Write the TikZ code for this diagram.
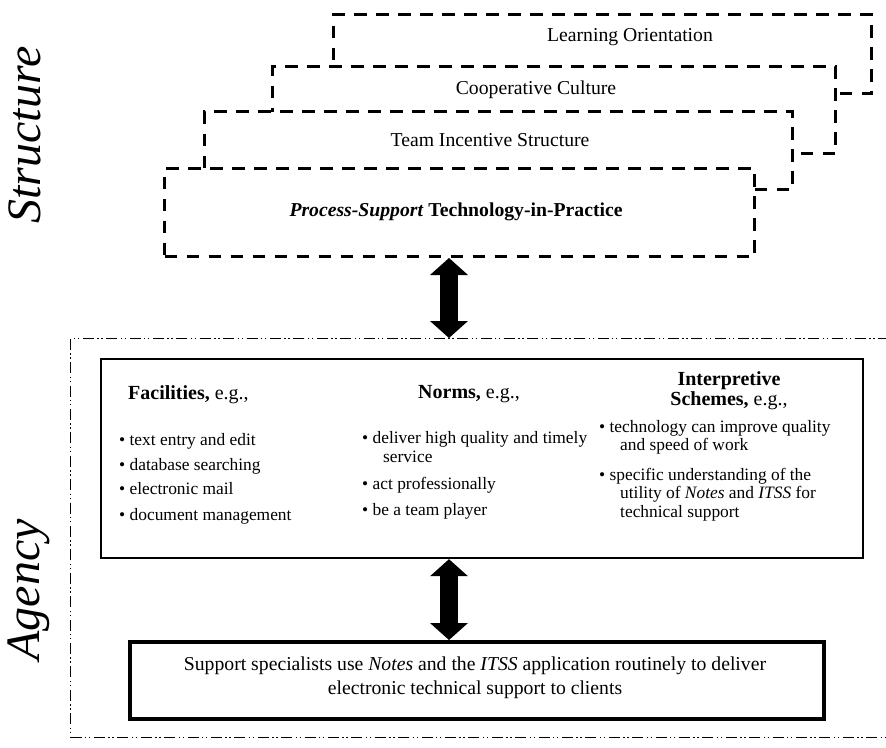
\documentclass[tikz,border=0pt]{standalone}
\usepackage{fontspec}
\setmainfont{Liberation Serif}
\usetikzlibrary{arrows.meta,calc}
\begin{document}
\begin{tikzpicture}[x=1pt,y=-1pt,
  dbox/.style={draw, line width=3pt, dash pattern=on 12.5pt off 9.5pt, fill=white, rectangle, inner sep=0pt, anchor=north west},
  ddbox/.style={draw, line width=1.1pt, dash pattern=on 11pt off 3.5pt on 1.4pt off 2.6pt on 1.4pt off 3.5pt, rectangle, inner sep=0pt, anchor=north west},
  solidbox/.style={draw, line width=2.2pt, rectangle, inner sep=0pt, anchor=north west},
  thickbox/.style={draw, line width=3.6pt, rectangle, inner sep=0pt, anchor=north west},
  toptext/.style={inner sep=0pt, anchor=base, font=\fontsize{19.7}{22}\selectfont},
  headtext/.style={inner sep=0pt, font=\fontsize{20}{22}\selectfont},
  itemtext/.style={inner sep=0pt, anchor=base west, font=\fontsize{17.4}{19}\selectfont},
  sidetext/.style={inner sep=0pt, rotate=90, font=\itshape\fontsize{48}{48}\selectfont},
  bigarrow/.style={line width=18pt, {Triangle[width=38pt,length=17pt,line width=0pt]}-{Triangle[width=38pt,length=17pt,line width=0pt]}}
]
\useasboundingbox (0,0) rectangle (886,747);
\begin{scope}
\clip (0,0) rectangle (886,747);

% side labels
\node[sidetext] (structure) at (25,135) {Structure};
\node[sidetext] (agency) at (29,590) {Agency};

% stacked dashed boxes (back to front)
\node[dbox, minimum width=538pt, minimum height=79pt] (b4) at (332,13) {};
\node[dbox, minimum width=563pt, minimum height=87pt] (b3) at (271,65) {};
\node[dbox, minimum width=588pt, minimum height=78pt] (b2) at (203,110) {};
\node[dbox, minimum width=590pt, minimum height=88pt] (b1) at (163,167) {};

\node[toptext] (t4) at (630,41) {Learning Orientation};
\node[toptext] (t3) at (536,94) {Cooperative Culture};
\node[toptext] (t2) at (490,146) {Team Incentive Structure};
\node[toptext] (t1) at (456,216) {\textbf{\textit{Process-Support} Technology-in-Practice}};

% agency region
\node[ddbox, minimum width=830pt, minimum height=399pt] (outer) at (70,338) {};
\node[solidbox, minimum width=762pt, minimum height=199pt] (inner) at (100,358) {};
\node[thickbox, minimum width=694pt, minimum height=77pt] (bottom) at (128,640) {};

% Facilities column
\node[headtext, anchor=base west] (fh) at (128,399) {\textbf{Facilities,} e.g.,};
\node[itemtext] (f1) at (119,445) {• text entry and edit};
\node[itemtext] (f2) at (119,470) {• database searching};
\node[itemtext] (f3) at (119,494) {• electronic mail};
\node[itemtext] (f4) at (119,520) {• document management};

% Norms column
\node[headtext, anchor=base west] (nh) at (418,398) {\textbf{Norms,} e.g.,};
\node[itemtext] (n1) at (362,443) {• deliver high quality and timely};
\node[itemtext] (n1b) at (383,462) {service};
\node[itemtext] (n2) at (362,489) {• act professionally};
\node[itemtext] (n3) at (362,515) {• be a team player};

% Interpretive schemes column
\node[headtext, anchor=base] (ih1) at (729,385) {\textbf{Interpretive}};
\node[headtext, anchor=base] (ih2) at (729,405) {\textbf{Schemes,} e.g.,};
\node[itemtext] (i1) at (599,432) {• technology can improve quality};
\node[itemtext] (i1b) at (620,450) {and speed of work};
\node[itemtext] (i2) at (599,480) {• specific understanding of the};
\node[itemtext] (i2b) at (620,498) {utility of \textit{Notes} and \textit{ITSS} for};
\node[itemtext] (i2c) at (620,517) {technical support};

% bottom box text
\node[toptext] (bt1) at (475,670) {Support specialists use \textit{Notes} and the \textit{ITSS} application routinely to deliver};
\node[toptext] (bt2) at (475,694) {electronic technical support to clients};

% arrows
\coordinate (ax) at (449,0);
\draw[bigarrow] (ax |- b1.south) -- (ax |- outer.north);
\draw[bigarrow] (ax |- inner.south) -- (ax |- bottom.north);
\end{scope}
\end{tikzpicture}
\end{document}
